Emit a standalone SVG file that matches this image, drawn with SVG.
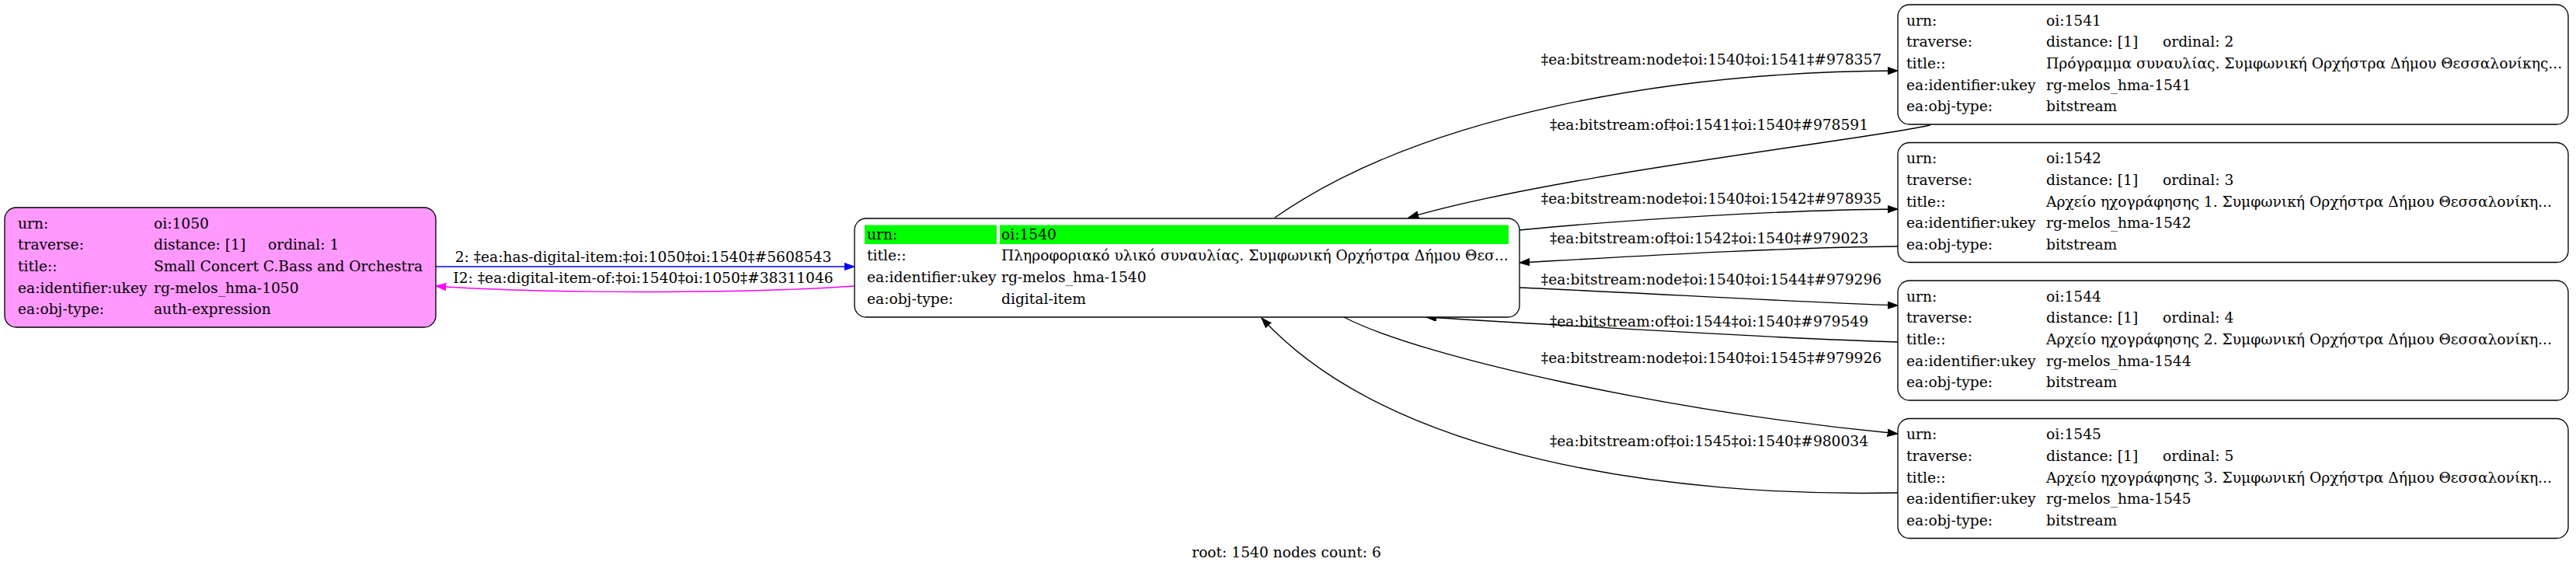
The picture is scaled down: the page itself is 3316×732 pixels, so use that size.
<svg xmlns="http://www.w3.org/2000/svg" width="3316" height="732" viewBox="0 0 3316 732">
<defs>
<style>
text{font-family:"DejaVu Serif","Liberation Serif",serif;font-size:18.67px;fill:#000}
.box{stroke:#000;stroke-width:1.33}
.e{fill:none;stroke:#000;stroke-width:1.33}
.lbl{text-anchor:middle}
</style>
<marker id="ak" markerUnits="userSpaceOnUse" markerWidth="15" markerHeight="11" refX="13.3" refY="4.7" orient="auto"><path d="M0,0 L13.3,4.7 L0,9.4 z" fill="#000" stroke="#000" stroke-width="1"/></marker>
<marker id="ab" markerUnits="userSpaceOnUse" markerWidth="15" markerHeight="11" refX="13.3" refY="4.7" orient="auto"><path d="M0,0 L13.3,4.7 L0,9.4 z" fill="#0000ff" stroke="#0000ff" stroke-width="1"/></marker>
<marker id="am" markerUnits="userSpaceOnUse" markerWidth="15" markerHeight="11" refX="13.3" refY="4.7" orient="auto"><path d="M0,0 L13.3,4.7 L0,9.4 z" fill="#ff00ff" stroke="#ff00ff" stroke-width="1"/></marker>
</defs>
<rect width="3316" height="732" fill="#fff"/>

<g id="edges">
<path class="e" d="M561,343 L1100,343" style="stroke:#0000ff" marker-end="url(#ab)"/>
<text class="lbl" x="828" y="337">2: ‡ea:has-digital-item:‡oi:1050‡oi:1540‡#5608543</text>
<path class="e" d="M1100,368 C950,378 700,378 561,368" style="stroke:#ff00ff" marker-end="url(#am)"/>
<text class="lbl" x="828" y="364">I2: ‡ea:digital-item-of:‡oi:1540‡oi:1050‡#38311046</text>

<path class="e" d="M1641,280 C1830,148 2150,92 2443,91" marker-end="url(#ak)"/>
<text class="lbl" x="2203" y="83">‡ea:bitstream:node‡oi:1540‡oi:1541‡#978357</text>
<path class="e" d="M2485,161 C2400,180 2000,225 1813,280" marker-end="url(#ak)"/>
<text class="lbl" x="2200" y="167">‡ea:bitstream:of‡oi:1541‡oi:1540‡#978591</text>

<path class="e" d="M1956,296 C2100,282 2300,270 2443,269" marker-end="url(#ak)"/>
<text class="lbl" x="2203" y="262">‡ea:bitstream:node‡oi:1540‡oi:1542‡#978935</text>
<path class="e" d="M2443,317 C2300,318 2100,330 1956,338" marker-end="url(#ak)"/>
<text class="lbl" x="2200" y="313">‡ea:bitstream:of‡oi:1542‡oi:1540‡#979023</text>

<path class="e" d="M1956,370 C2100,376 2300,388 2443,393" marker-end="url(#ak)"/>
<text class="lbl" x="2203" y="366">‡ea:bitstream:node‡oi:1540‡oi:1544‡#979296</text>
<path class="e" d="M2443,440 C2300,436 2000,418 1836,408" marker-end="url(#ak)"/>
<text class="lbl" x="2200" y="420">‡ea:bitstream:of‡oi:1544‡oi:1540‡#979549</text>

<path class="e" d="M1730,408 C1830,460 2150,530 2443,558" marker-end="url(#ak)"/>
<text class="lbl" x="2203" y="467">‡ea:bitstream:node‡oi:1540‡oi:1545‡#979926</text>
<path class="e" d="M2443,634 C2150,640 1790,590 1624,409" marker-end="url(#ak)"/>
<text class="lbl" x="2200" y="574">‡ea:bitstream:of‡oi:1545‡oi:1540‡#980034</text>
</g>

<g id="n1050">
<rect class="box" x="6" y="267" width="555" height="154" rx="15" fill="#ff99ff"/>
<text x="23" y="293.5">urn:</text><text x="198" y="293.5">oi:1050</text>
<text x="23" y="321">traverse:</text><text y="321"><tspan x="198">distance: [1]</tspan><tspan x="345">ordinal: 1</tspan></text>
<text x="23" y="349">title::</text><text x="198" y="349">Small Concert C.Bass and Orchestra</text>
<text x="23" y="376.5">ea:identifier:ukey</text><text x="198" y="376.5">rg-melos_hma-1050</text>
<text x="23" y="404">ea:obj-type:</text><text x="198" y="404">auth-expression</text>
</g>

<g id="n1540">
<rect class="box" x="1100" y="281" width="856" height="127" rx="15" fill="#fff"/>
<rect x="1113" y="289.5" width="170" height="24.5" fill="#00ff00"/>
<rect x="1287" y="289.5" width="655" height="24.5" fill="#00ff00"/>
<text x="1116" y="307.5">urn:</text><text x="1289" y="307.5">oi:1540</text>
<text x="1116" y="335">title::</text><text x="1289" y="335">Πληροφοριακό υλικό συναυλίας. Συμφωνική Ορχήστρα Δήμου Θεσ...</text>
<text x="1116" y="363">ea:identifier:ukey</text><text x="1289" y="363">rg-melos_hma-1540</text>
<text x="1116" y="390.6">ea:obj-type:</text><text x="1289" y="390.6">digital-item</text>
</g>

<g id="n1541">
<rect class="box" x="2443" y="6" width="863" height="154" rx="15" fill="#fff"/>
<text x="2454" y="32.5">urn:</text><text x="2634" y="32.5">oi:1541</text>
<text x="2454" y="60">traverse:</text><text y="60"><tspan x="2634">distance: [1]</tspan><tspan x="2784">ordinal: 2</tspan></text>
<text x="2454" y="88">title::</text><text x="2634" y="88">Πρόγραμμα συναυλίας. Συμφωνική Ορχήστρα Δήμου Θεσσαλονίκης...</text>
<text x="2454" y="115.5">ea:identifier:ukey</text><text x="2634" y="115.5">rg-melos_hma-1541</text>
<text x="2454" y="143">ea:obj-type:</text><text x="2634" y="143">bitstream</text>
</g>

<g id="n1542">
<rect class="box" x="2443" y="183.5" width="863" height="154" rx="15" fill="#fff"/>
<text x="2454" y="210">urn:</text><text x="2634" y="210">oi:1542</text>
<text x="2454" y="237.5">traverse:</text><text y="237.5"><tspan x="2634">distance: [1]</tspan><tspan x="2784">ordinal: 3</tspan></text>
<text x="2454" y="265.5">title::</text><text x="2634" y="265.5">Αρχείο ηχογράφησης 1. Συμφωνική Ορχήστρα Δήμου Θεσσαλονίκη...</text>
<text x="2454" y="293">ea:identifier:ukey</text><text x="2634" y="293">rg-melos_hma-1542</text>
<text x="2454" y="320.5">ea:obj-type:</text><text x="2634" y="320.5">bitstream</text>
</g>

<g id="n1544">
<rect class="box" x="2443" y="361" width="863" height="154" rx="15" fill="#fff"/>
<text x="2454" y="387.5">urn:</text><text x="2634" y="387.5">oi:1544</text>
<text x="2454" y="415">traverse:</text><text y="415"><tspan x="2634">distance: [1]</tspan><tspan x="2784">ordinal: 4</tspan></text>
<text x="2454" y="443">title::</text><text x="2634" y="443">Αρχείο ηχογράφησης 2. Συμφωνική Ορχήστρα Δήμου Θεσσαλονίκη...</text>
<text x="2454" y="470.5">ea:identifier:ukey</text><text x="2634" y="470.5">rg-melos_hma-1544</text>
<text x="2454" y="498">ea:obj-type:</text><text x="2634" y="498">bitstream</text>
</g>

<g id="n1545">
<rect class="box" x="2443" y="538.5" width="863" height="154" rx="15" fill="#fff"/>
<text x="2454" y="565">urn:</text><text x="2634" y="565">oi:1545</text>
<text x="2454" y="592.5">traverse:</text><text y="592.5"><tspan x="2634">distance: [1]</tspan><tspan x="2784">ordinal: 5</tspan></text>
<text x="2454" y="620.5">title::</text><text x="2634" y="620.5">Αρχείο ηχογράφησης 3. Συμφωνική Ορχήστρα Δήμου Θεσσαλονίκη...</text>
<text x="2454" y="648">ea:identifier:ukey</text><text x="2634" y="648">rg-melos_hma-1545</text>
<text x="2454" y="675.5">ea:obj-type:</text><text x="2634" y="675.5">bitstream</text>
</g>

<g id="graph-label">
<text class="lbl" x="1656" y="717">root: 1540 nodes count: 6</text>
</g>
</svg>
